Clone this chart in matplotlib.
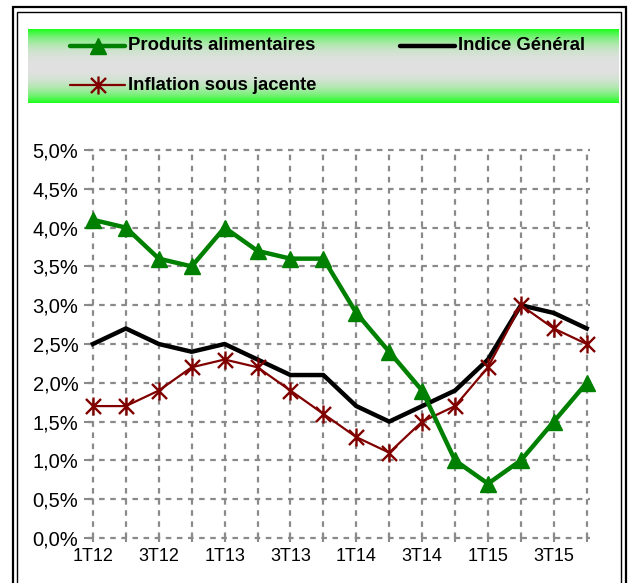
import numpy as np
import matplotlib
matplotlib.use("Agg")
import matplotlib.pyplot as plt
from matplotlib.lines import Line2D
from matplotlib.patches import Rectangle
from matplotlib.path import Path

# données trimestrielles (glissement annuel, %)
trimestres = ["1T12", "2T12", "3T12", "4T12", "1T13", "2T13", "3T13", "4T13",
              "1T14", "2T14", "3T14", "4T14", "1T15", "2T15", "3T15", "4T15"]
produits_alimentaires = [4.1, 4.0, 3.6, 3.5, 4.0, 3.7, 3.6, 3.6,
                         2.9, 2.4, 1.9, 1.0, 0.7, 1.0, 1.5, 2.0]
indice_general = [2.5, 2.7, 2.5, 2.4, 2.5, 2.3, 2.1, 2.1,
                  1.7, 1.5, 1.7, 1.9, 2.3, 3.0, 2.9, 2.7]
inflation_sous_jacente = [1.7, 1.7, 1.9, 2.2, 2.3, 2.2, 1.9, 1.6,
                          1.3, 1.1, 1.5, 1.7, 2.2, 3.0, 2.7, 2.5]
y_ticks = [0.0, 0.5, 1.0, 1.5, 2.0, 2.5, 3.0, 3.5, 4.0, 4.5, 5.0]

plt.rcParams['font.family'] = ['Liberation Sans', 'DejaVu Sans']

W, H = 629, 583
fig = plt.figure(figsize=(W / 100, H / 100), dpi=100)
fig.patch.set_facecolor("white")

# marqueur étoile façon Excel (X + barre verticale)
star = Path([(-1, -1), (1, 1), (-1, 1), (1, -1), (0, -1.2), (0, 1.2)],
            [Path.MOVETO, Path.LINETO, Path.MOVETO, Path.LINETO, Path.MOVETO, Path.LINETO])

GREEN = "#008000"
RED = "#800000"
GRID = "#8a8a8a"

# zone de tracé
x0, x1, y_top, y_bot = 88, 590, 150, 538
ax = fig.add_axes([x0 / W, 1 - y_bot / H, (x1 - x0) / W, (y_bot - y_top) / H])
x = np.arange(len(trimestres))

ax.plot(x, indice_general, color="black", lw=3.2, zorder=3, clip_on=False)
ax.plot(x, inflation_sous_jacente, color=RED, lw=1.6, marker=star, ms=13,
        mew=1.7, mec=RED, zorder=4, clip_on=False)
ax.plot(x, produits_alimentaires, color=GREEN, lw=3.2, marker="^", ms=11.5,
        mfc=GREEN, mec=GREEN, zorder=5, clip_on=False)

ax.set_xlim(-0.15, 15.1)
ax.set_ylim(0, 5.0)
ax.set_xticks(x)
ax.set_xticklabels([t if i % 2 == 0 else "" for i, t in enumerate(trimestres)], fontsize=13)
ax.set_yticks(y_ticks)
ax.set_yticklabels([f"{v:.1f}%".replace(".", ",") for v in y_ticks], fontsize=14.5)
ax.grid(True, color=GRID, lw=1.6, linestyle=(0, (2.5, 2.5)))
ax.set_axisbelow(True)
for s in ax.spines.values():
    s.set_visible(False)
ax.tick_params(axis="both", colors=GRID, direction="inout", length=6, width=1.5)
ax.tick_params(axis="y", pad=4, labelcolor="black")
ax.tick_params(axis="x", pad=4, labelcolor="black")
for gl in ax.get_xgridlines() + ax.get_ygridlines():
    gl.set_clip_on(False)

# bandeau de légende en dégradé
bx0, bx1, by0, by1 = 28, 619, 29, 103
band = fig.add_axes([bx0 / W, 1 - by1 / H, (bx1 - bx0) / W, (by1 - by0) / H])
t = np.abs(np.linspace(-1, 1, 200)) ** 2.6
green_c = np.array([0.1, 1.0, 0.1])
gray_c = np.array([0.88, 0.88, 0.88])
grad = gray_c[None, :] + (green_c - gray_c)[None, :] * t[:, None]
band.imshow(grad[:, None, :], aspect="auto", extent=[0, 1, 0, 1])
band.axis("off")


def fx(px):
    return px / W


def fy(py):
    return 1 - py / H


def legend_entry(xa, xb, yy, label, **kw):
    fig.add_artist(Line2D([fx(xa), fx(xb)], [fy(yy), fy(yy)], transform=fig.transFigure,
                          solid_capstyle="round", zorder=10, **kw))
    fig.text(fx(xb + 3), fy(yy), label, fontsize=13.3, fontweight="bold",
             va="center", ha="left", zorder=10)


legend_entry(70, 125, 46, "Produits alimentaires", color=GREEN, lw=3.2)
fig.add_artist(Line2D([fx(98)], [fy(46)], transform=fig.transFigure, marker="^", ms=11.5,
                      color=GREEN, lw=0, zorder=11))
legend_entry(400, 455, 46, "Indice Général", color="black", lw=3.2)
legend_entry(70, 125, 85, "Inflation sous jacente", color=RED, lw=1.6)
fig.add_artist(Line2D([fx(98)], [fy(85)], transform=fig.transFigure, marker=star, ms=13,
                      mew=1.7, color=RED, lw=0, zorder=11))

# double cadre
fig.add_artist(Rectangle((fx(13), fy(600)), fx(626) - fx(13), fy(7) - fy(600),
                         transform=fig.transFigure, fill=False, lw=1.6, ec="black"))
fig.add_artist(Rectangle((fx(17), fy(600)), fx(621) - fx(17), fy(12) - fy(600),
                         transform=fig.transFigure, fill=False, lw=1.0, ec="black"))

fig.savefig("out.png", dpi=100)
